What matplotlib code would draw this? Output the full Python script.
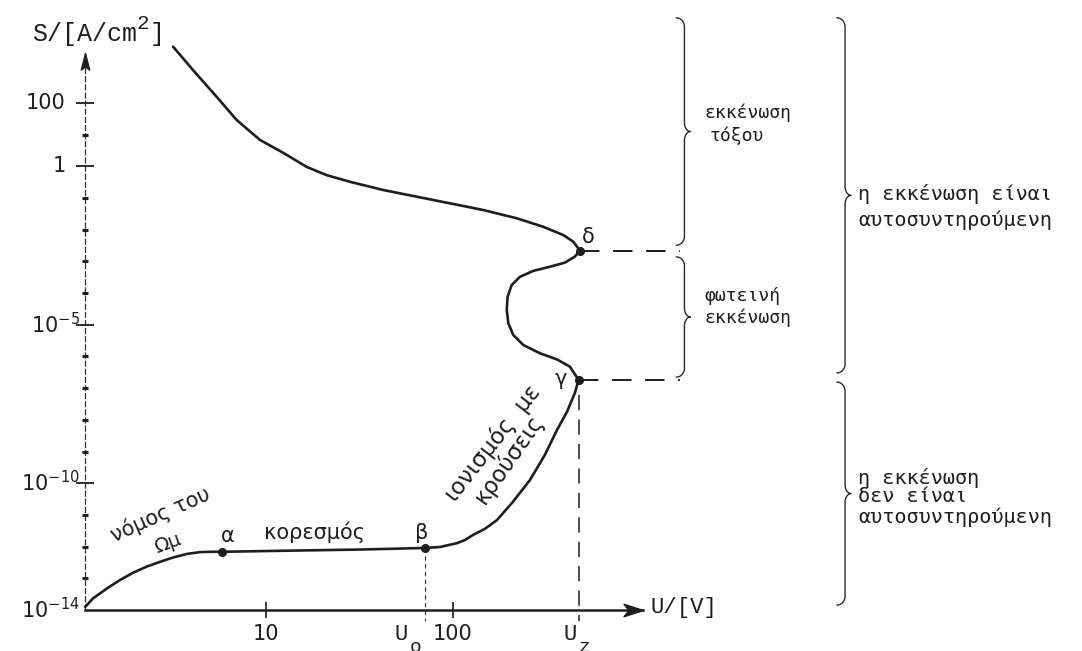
import numpy as np
import matplotlib
matplotlib.use('Agg')
from matplotlib import pyplot as plt

# characteristic of a gas discharge: U in volt, S in A/cm^2 (given as powers of ten)
# lower branch (origin -> alpha -> beta -> gamma)
u_lower = [1.08, 1.19, 1.41, 1.66, 1.95, 2.30, 2.71, 3.19, 3.77, 4.44, 5.23, 5.82,
           15.2, 31.8, 70.8, 85.2, 105, 116, 128, 148, 172, 209, 258, 310, 360, 407, 449, 470]
s_exp_lower = [-13.90, -13.63, -13.32, -13.05, -12.82, -12.63, -12.48, -12.34, -12.23, -12.17, -12.16, -12.16,
               -12.12, -12.09, -12.04, -12.01, -11.89, -11.79, -11.63, -11.44, -11.16, -10.59, -9.90, -9.11,
               -8.32, -7.75, -7.15, -6.74]
# glow discharge branch (gamma -> delta)
u_glow = [422, 359, 292, 238, 210, 198, 194, 196, 206, 228, 269, 330, 397, 449, 478]
s_exp_glow = [-6.32, -6.09, -5.90, -5.64, -5.32, -4.96, -4.54, -4.12, -3.75, -3.49, -3.30, -3.17, -3.04, -2.85, -2.66]
# arc discharge branch (delta -> top)
u_arc = [440, 389, 304, 219, 145, 96.4, 63.9, 42.4, 28.1, 21.1, 16.5, 12.4, 9.29, 6.97, 5.45, 4.08, 3.19]
s_exp_arc = [-2.38, -2.17, -1.91, -1.64, -1.38, -1.17, -0.96, -0.75, -0.49, -0.28, -0.02, 0.42, 0.83, 1.46, 2.19, 3.03, 3.77]

# marked points
point_names = ['α', 'β', 'γ', 'δ']
point_u = [5.82, 70.8, 470, 478]
point_exp = [-12.16, -12.04, -6.74, -2.66]

# axes ticks
y_major_exp = [2, 0, -5, -10, -14]
y_major_labels = ['100', '1', '$10^{-5}$', '$10^{-10}$', '$10^{-14}$']
y_minor_exp = [1, -1, -2, -3, -4, -6, -7, -8, -9, -11, -12, -13]
x_major = [10, 100]
x_major_labels = ['10', '100']
u_o = 70.8
u_z = 470

W, H = 1082, 651
plt.rcParams['mathtext.fontset'] = 'dejavusans'
ink = '#1e1e1e'

fig = plt.figure(figsize=(W / 100, H / 100), dpi=100)
ax = fig.add_axes([0, 0, 1, 1])
ax.set_xscale('log')
ax.set_yscale('log')
lx = (-0.422, 5.364)
ly = (-15.29, 5.243)
ax.set_xlim(10 ** lx[0], 10 ** lx[1])
ax.set_ylim(10 ** ly[0], 10 ** ly[1])
ax.axis('off')
px_dec_x = W / (lx[1] - lx[0])
px_dec_y = H / (ly[1] - ly[0])


def fx(px):
    return px / W


def fy(py):
    return 1 - py / H


def label(px, py, txt, **kw):
    return ax.text(fx(px), fy(py), txt, transform=ax.transAxes, color=ink, **kw)


# axes with arrows
u0, s0 = 1.08, 1e-14
u_tip, s_tip = 1040, 10 ** 3.57
ax.plot([u0, u_tip], [s0, s0], color=ink, lw=1.8, zorder=3)
ax.plot([u0, u0], [s0, s_tip], color='#333333', lw=0.9, dashes=(5, 1.5))
ax.plot([u_tip], [s0], marker=[(0, 0), (-1, 0.32), (-0.75, 0), (-1, -0.32), (0, 0)],
        ms=28, color=ink, zorder=4)
ax.plot([u0], [s_tip], marker=[(0, 0), (0.25, -1), (0, -0.8), (-0.25, -1), (0, 0)],
        ms=24, color=ink, zorder=4)

# y ticks
for e, lab in zip(y_major_exp, y_major_labels):
    if e != -14:
        ax.plot([u0], [10.0 ** e], marker='_', ms=13, mew=1.3, color=ink)
    power = '$' in lab
    ax.annotate(lab, xy=(u0, 10.0 ** e), xytext=(-4 if power else -14, -6 if power else 0),
                textcoords='offset points', ha='right',
                va='baseline' if power else 'center', fontsize=15, color=ink)
ax.plot([u0] * len(y_minor_exp), 10.0 ** np.array(y_minor_exp), ls='none',
        marker='_', ms=5, mew=2.2, color=ink)

# x ticks
for u, lab in zip(x_major, x_major_labels):
    ax.plot([u], [s0], marker='|', ms=12, mew=1.2, color=ink)
    ax.annotate(lab, xy=(u, s0), xytext=(0, -10), textcoords='offset points',
                ha='center', va='top', fontsize=15, color=ink)
for u, sub, dx in [(u_o, 'o', -12), (u_z, 'z', -1)]:
    t = ax.annotate('U', xy=(u, s0), xytext=(dx, -10), textcoords='offset points',
                    ha='right', va='top', fontsize=16, family='Liberation Mono', color=ink)
    ax.annotate(sub, xy=(1.0, 0.0), xycoords=t, xytext=(1, -2), textcoords='offset points',
                ha='left', va='center', fontsize=14, family='Liberation Mono', color=ink)

# guide lines
s_below = 10 ** -14.35
ax.plot([u_o, u_o], [10.0 ** point_exp[1], s_below], color='#333333', lw=0.8, dashes=(4, 3))
ax.plot([u_z, u_z], [10.0 ** -7.2, s_below], color=ink, lw=1.1, dashes=(10, 6))
u_brace1 = 1640
for u, e in zip(point_u[2:], point_exp[2:]):
    ax.plot([u, u_brace1], [10.0 ** e, 10.0 ** e], color=ink, lw=1.4, dashes=(10, 7))

# the curve and its points
u_curve = u_lower + u_glow + u_arc
s_curve = 10.0 ** np.array(s_exp_lower + s_exp_glow + s_exp_arc)
ax.plot(u_curve, s_curve, color=ink, lw=1.9,
        solid_capstyle='round', solid_joinstyle='round', zorder=5)
ax.plot(point_u, 10.0 ** np.array(point_exp), 'o', ms=5.5, color=ink, zorder=6)
offsets = [(4, 11), (-2, 11), (-13, 1), (6, 10)]
for name, u, e, off in zip(point_names, point_u, point_exp, offsets):
    ax.annotate(name, xy=(u, 10.0 ** e), xytext=off, textcoords='offset points',
                ha='center', va='center', fontsize=15, color=ink)

# curve region labels
label(315, 532, 'κορεσμός', fontsize=15, ha='center', va='center')
label(160, 514, 'νόμος του', fontsize=15, ha='center', va='center',
      rotation=24, rotation_mode='anchor')
label(168, 543, 'Ωμ', fontsize=14, ha='center', va='center',
      rotation=20, rotation_mode='anchor')
label(493, 443, 'ιονισμός  με', fontsize=16.5, ha='center', va='center',
      rotation=52, rotation_mode='anchor')
label(509, 459, 'κρούσεις', fontsize=16.5, ha='center', va='center',
      rotation=55, rotation_mode='anchor')


# curly braces, built in log space
def brace(u, s_top, s_bot):
    x = np.log10(u)
    y0, y1 = np.log10(s_top), np.log10(s_bot)
    w1, w2, r = 8 / px_dec_x, 6 / px_dec_x, 9 / px_dec_y
    ym = (y0 + y1) / 2
    t = np.linspace(0, np.pi / 2, 20)
    xs = np.concatenate([x - w1 + w1 * np.sin(t), x + w2 - w2 * np.cos(t),
                         x + w2 - w2 * np.cos(t[::-1]), x - w1 + w1 * np.sin(t[::-1])])
    ys = np.concatenate([y0 - r + r * np.cos(t), ym + r - r * np.sin(t),
                         ym - r + r * np.sin(t[::-1]), y1 + r - r * np.cos(t[::-1])])
    ax.plot(10 ** xs, 10 ** ys, color='#2a2a2a', lw=1.0)


u_brace2 = 12500
s_top = 10 ** 4.68
brace(u_brace1 + 90, s_top, 10 ** -2.49)
brace(u_brace1 + 90, 10 ** -2.86, 10 ** -6.65)
brace(u_brace2, s_top, 10 ** -6.52)
brace(u_brace2, 10 ** -6.81, 10 ** -13.84)

mono = dict(family='DejaVu Sans Mono', va='center', ha='left')
label(704, 113, 'εκκένωση', fontsize=13, **mono)
label(710, 136, 'τόξου', fontsize=13, **mono)
label(704, 296, 'φωτεινή', fontsize=13, **mono)
label(704, 318, 'εκκένωση', fontsize=13, **mono)
label(858, 194, 'η εκκένωση είναι', fontsize=14.5, **mono)
label(858, 220, 'αυτοσυντηρούμενη', fontsize=14.5, **mono)
label(858, 478, 'η εκκένωση', fontsize=14.5, **mono)
label(858, 497, 'δεν είναι', fontsize=14.5, **mono)
label(858, 517, 'αυτοσυντηρούμενη', fontsize=14.5, **mono)

# axis names
t = label(32, 34, 'S/[A/cm', fontsize=18, family='Liberation Mono', va='center', ha='left')
t2 = ax.annotate('2', xy=(1.0, 0.95), xycoords=t, ha='left', va='center',
                 fontsize=15, family='Liberation Mono', color=ink)
ax.annotate(']', xy=(1.0, 0.0), xycoords=(t2, t), ha='left', va='bottom',
            fontsize=18, family='Liberation Mono', color=ink)
label(650, 608, 'U/[V]', fontsize=16, family='Liberation Mono', va='center', ha='left')

fig.savefig('out.png', dpi=100, facecolor='white')
